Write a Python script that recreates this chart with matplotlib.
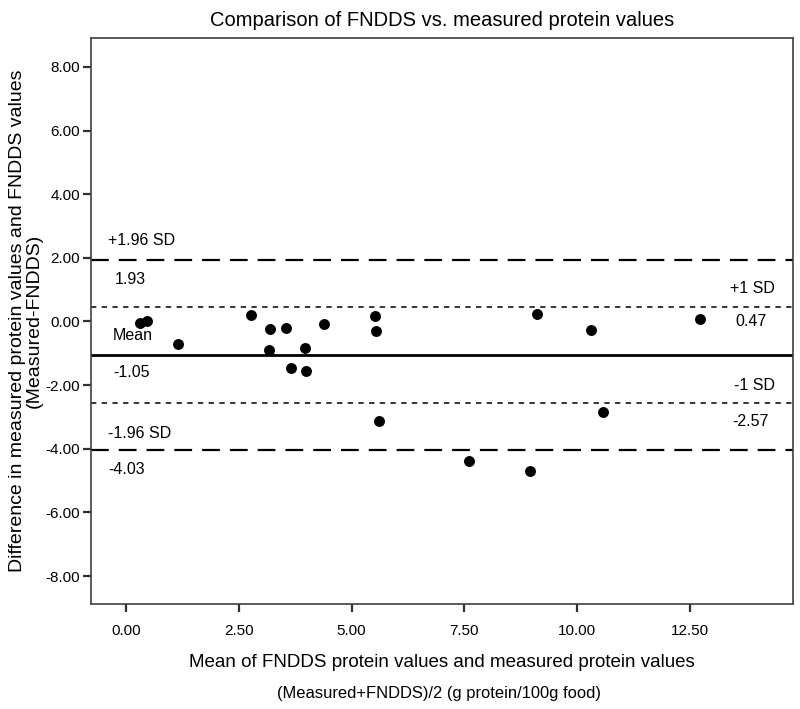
import matplotlib
matplotlib.use("Agg")
import matplotlib.pyplot as plt
import matplotlib.transforms as mtransforms

plt.rcParams['font.family'] = ['Liberation Sans', 'DejaVu Sans']

# mean of the two methods and their difference, one point per food
mean_vals = [0.30, 0.46, 1.15, 2.76, 3.19, 3.17, 3.54, 3.96, 3.65, 3.98, 4.39,
             5.52, 5.54, 5.61, 7.61, 8.96, 9.12, 10.32, 10.57, 12.74]
diff_vals = [-0.06, 0.02, -0.72, 0.20, -0.25, -0.91, -0.19, -0.82, -1.45, -1.57, -0.08,
             0.17, -0.30, -3.13, -4.38, -4.69, 0.25, -0.28, -2.85, 0.09]

mean_diff = -1.05
sd1_hi, sd1_lo = 0.47, -2.57
sd196_hi, sd196_lo = 1.93, -4.03

x_ticks = [0, 2.5, 5, 7.5, 10, 12.5]
y_ticks = [-8, -6, -4, -2, 0, 2, 4, 6, 8]

fig = plt.figure(figsize=(8, 7.09), dpi=100)
ax = fig.add_axes([0.114, 0.148, 0.877, 0.798])

ax.axhline(sd196_hi, color='black', lw=1.6, dashes=(8, 4.5))
ax.axhline(sd196_lo, color='black', lw=1.6, dashes=(8, 4.5))
ax.axhline(sd1_hi, color='black', lw=1.1, dashes=(3.5, 3.5))
ax.axhline(sd1_lo, color='black', lw=1.1, dashes=(3.5, 3.5))
ax.axhline(mean_diff, color='black', lw=2.0)

ax.scatter(mean_vals, diff_vals, s=62, color='black', zorder=3, linewidths=0)

ax.set_xlim(-0.78, 14.79)
ax.set_ylim(-8.88, 8.90)
ax.set_xticks(x_ticks)
ax.set_yticks(y_ticks)
ax.set_xticklabels([f"{t:.2f}" for t in x_ticks])
ax.set_yticklabels([f"{t:.2f}" for t in y_ticks])
ax.tick_params(axis='both', direction='out', length=6, width=1.6, color='#303030',
               labelsize=11, pad=2)
ax.tick_params(axis='x', pad=8)
for s in ax.spines.values():
    s.set_color('#404040')
    s.set_linewidth(1.2)

# line labels: left side and right side, placed relative to each line
lt = mtransforms.blended_transform_factory(ax.transAxes, ax.transData)
fs = 11.5
def lbl(x, y, txt, dy, ha='left'):
    ax.annotate(txt, (x, y), xycoords=lt, xytext=(0, dy), textcoords='offset points',
                ha=ha, va='center', fontsize=fs)

lbl(0.024, sd196_hi, "+1.96 SD", 14)
lbl(0.034, sd196_hi, f"{sd196_hi:.2f}", -14)
lbl(0.031, mean_diff, "Mean", 14)
lbl(0.031, mean_diff, f"{mean_diff:.2f}", -13)
lbl(0.024, sd196_lo, "-1.96 SD", 12)
lbl(0.024, sd196_lo, f"{sd196_lo:.2f}", -14)
lbl(0.974, sd1_hi, "+1 SD", 13, ha='right')
lbl(0.962, sd1_hi, f"{sd1_hi:.2f}", -11, ha='right')
lbl(0.974, sd1_lo, "-1 SD", 13, ha='right')
lbl(0.965, sd1_lo, f"{sd1_lo:.2f}", -13, ha='right')

ax.set_title("Comparison of FNDDS vs. measured protein values", fontsize=14.5, pad=9)
ax.set_xlabel("Mean of FNDDS protein values and measured protein values", fontsize=13.5,
              labelpad=12)
fig.text(0.549, 0.022, "(Measured+FNDDS)/2 (g protein/100g food)", ha='center',
         va='center', fontsize=11.9)
ax.set_ylabel("Difference in measured protein values and FNDDS values\n(Measured-FNDDS)",
              fontsize=14, labelpad=2, linespacing=0.95)

fig.savefig("out.png", dpi=100)
